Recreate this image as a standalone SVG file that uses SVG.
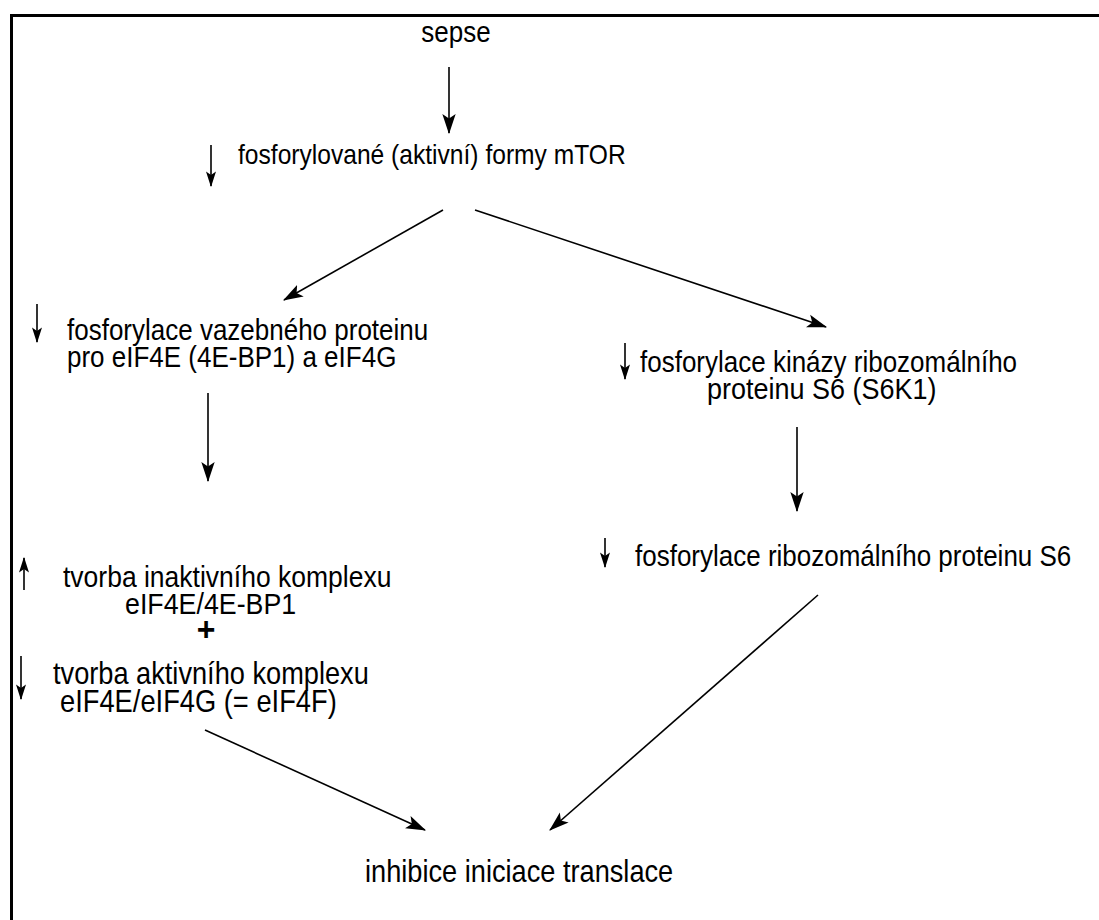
<svg xmlns="http://www.w3.org/2000/svg" width="1099" height="920" viewBox="0 0 1099 920">
<style>
text{font-family:"Liberation Sans",Arial,sans-serif;font-size:26px;fill:#000}
.c{stroke:#000;stroke-width:1.6;fill:none}
.s{stroke:#000;stroke-width:1.6;fill:none}
</style>
<defs>
<marker id="ah" markerUnits="userSpaceOnUse" markerWidth="20" markerHeight="14" viewBox="0 0 18 12" refX="17" refY="6" orient="auto">
<path d="M0,0 L18,6 L0,12 L4,6 z" fill="#000"/>
</marker>
<marker id="sh" markerUnits="userSpaceOnUse" markerWidth="16" markerHeight="10" viewBox="0 0 14 9" refX="13" refY="4.5" orient="auto">
<path d="M0,0 L14,4.5 L0,9 L3,4.5 z" fill="#000"/>
</marker>
</defs>
<rect width="1099" height="920" fill="#fff"/>
<path d="M11.5,940 L11.5,15.5 L1120,15.5" stroke="#000" stroke-width="3" fill="none"/>
<g id="n-sepse"><text transform="matrix(1 0 0 1.12 456 42)" text-anchor="middle">sepse</text></g>
<g id="n-mtor">
<line class="s" x1="211" y1="145" x2="211" y2="186" marker-end="url(#sh)"/>
<text transform="matrix(1 0 0 1.12 238 164)" style="font-size:24.6px">fosforylované (aktivní) formy mTOR</text>
</g>
<g id="n-4ebp1">
<line class="s" x1="37" y1="304" x2="37" y2="342" marker-end="url(#sh)"/>
<text transform="matrix(1 0 0 1.12 67 340)">fosforylace vazebného proteinu</text>
<text transform="matrix(1 0 0 1.12 67 367)">pro eIF4E (4E-BP1) a eIF4G</text>
</g>
<g id="n-s6k1">
<line class="s" x1="625" y1="343" x2="625" y2="379" marker-end="url(#sh)"/>
<text transform="matrix(1 0 0 1.12 640 372)">fosforylace kinázy ribozomálního</text>
<text transform="matrix(1 0 0 1.12 707 399)" style="font-size:27px">proteinu S6 (S6K1)</text>
</g>
<g id="n-komplex">
<line class="s" x1="24" y1="590" x2="24" y2="558" marker-end="url(#sh)"/>
<text transform="matrix(1 0 0 1.12 63 587)" style="font-size:26.5px">tvorba inaktivního komplexu</text>
<text transform="matrix(1 0 0 1.12 125 614)" style="font-size:26.8px">eIF4E/4E-BP1</text>
<text transform="matrix(1 0 0 1.05 206 641)" text-anchor="middle" style="font-size:32px;font-weight:bold">+</text>
<line class="s" x1="21" y1="656" x2="21" y2="699" marker-end="url(#sh)"/>
<text transform="matrix(1 0 0 1.12 53 684)" style="font-size:27.2px">tvorba aktivního komplexu</text>
<text transform="matrix(1 0 0 1.12 60 712)" style="font-size:27.3px">eIF4E/eIF4G (= eIF4F)</text>
</g>
<g id="n-s6">
<line class="s" x1="605" y1="538" x2="605" y2="567" marker-end="url(#sh)"/>
<text transform="matrix(1 0 0 1.12 635 566)">fosforylace ribozomálního proteinu S6</text>
</g>
<g id="n-inhibice"><text transform="matrix(1 0 0 1.12 365 882)" style="font-size:27.2px">inhibice iniciace translace</text></g>
<g id="connectors">
<line class="c" x1="449" y1="67" x2="449" y2="133" marker-end="url(#ah)"/>
<line class="c" x1="443" y1="210" x2="284" y2="300" marker-end="url(#ah)"/>
<line class="c" x1="475" y1="210" x2="826" y2="327" marker-end="url(#ah)"/>
<line class="c" x1="208" y1="393" x2="208" y2="481" marker-end="url(#ah)"/>
<line class="c" x1="797" y1="427" x2="797" y2="511" marker-end="url(#ah)"/>
<line class="c" x1="818" y1="595" x2="550" y2="830" marker-end="url(#ah)"/>
<line class="c" x1="205" y1="730" x2="425" y2="830" marker-end="url(#ah)"/>
</g>
</svg>
